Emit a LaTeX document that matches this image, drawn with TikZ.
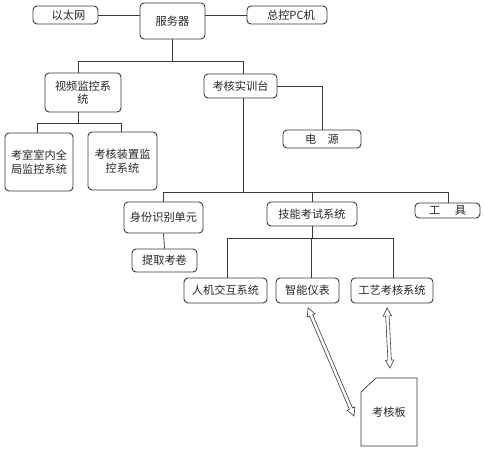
\documentclass[tikz,border=0pt]{standalone}
\usepackage{fontspec}
\setmainfont{Noto Sans CJK SC}
\definecolor{ln}{HTML}{3A3A3A}
\newcommand\hollowarrow[3]{%
  \begin{scope}[shift={#1},rotate=#3]
    \draw[draw=ln,line width=0.6pt,fill=white,line join=miter]
      (0,0) -- (8,4.2) -- (8,1.7) -- ({#2-8},1.7) -- ({#2-8},4.2) -- (#2,0)
      -- ({#2-8},-4.2) -- ({#2-8},-1.7) -- (8,-1.7) -- (8,-4.2) -- cycle;
  \end{scope}}
\begin{document}
\begin{tikzpicture}[x=1pt,y=-1pt,
  box/.style={draw=ln,line width=0.9pt,rounded corners=4pt,inner sep=0pt,align=center,
    font=\fontsize{11.2}{13.5}\selectfont,text=black!85},
  conn/.style={draw=ln,line width=0.8pt}]
\useasboundingbox (0,0) rectangle (484,450);
% nodes
\node[box,minimum width=65pt,minimum height=18pt] (eth) at (65.5,15) {\hspace{6pt}以太网};
\node[box,minimum width=65pt,minimum height=36pt] (srv) at (172.5,21) {服务器};
\node[box,minimum width=80pt,minimum height=18pt] (pc) at (287,15) {\hspace{8pt}总控PC机};
\node[box,minimum width=76pt,minimum height=39pt] (video) at (83,92.5) {视频监控系\\统};
\node[box,minimum width=73pt,minimum height=24pt] (train) at (240.5,86) {考核实训台};
\node[box,minimum width=68pt,minimum height=58pt] (vid1) at (39,162) {考室室内全\\局监控系统};
\node[box,minimum width=69pt,minimum height=58pt] (vid2) at (122.5,161) {考核装置监\\控系统};
\node[box,minimum width=78pt,minimum height=18pt] (power) at (322,139) {电\hspace{1em}源};
\node[box,minimum width=79pt,minimum height=31pt] (id) at (163.5,217.5) {身份识别单元};
\node[box,minimum width=90pt,minimum height=24pt] (skill) at (312,214) {技能考试系统};
\node[box,minimum width=65pt,minimum height=15pt] (tool) at (447.5,210.5) {工\hspace{1.3em}具};
\node[box,minimum width=65pt,minimum height=23pt] (paper) at (164.5,260.5) {提取考卷};
\node[box,minimum width=83pt,minimum height=25pt] (hmi) at (225.5,290.5) {人机交互系统};
\node[box,minimum width=63pt,minimum height=25pt] (meter) at (307.5,290.5) {智能仪表};
\node[box,minimum width=82pt,minimum height=25pt] (craft) at (392,290.5) {工艺考核系统};
% board with cut corner
\draw[draw=ln,line width=0.7pt] (361,392) -- (376,378) -- (417,378) -- (417,446) -- (361,446) -- cycle;
\node[font=\fontsize{11.2}{13.5}\selectfont,text=black!85,inner sep=0pt] (board) at (389,412) {考核板};
% junction coordinates
\coordinate (h1l) at (78,61);  \coordinate (h1r) at (243,61);
\coordinate (h2l) at (37,123); \coordinate (h2m) at (78,123); \coordinate (h2r) at (121,123);
\coordinate (h3l) at (163,192); \coordinate (h3m) at (243,192); \coordinate (h3r) at (448,192);
\coordinate (h4l) at (227,238); \coordinate (h4m) at (311,238); \coordinate (h4r) at (393,238);
% connectors
\draw[conn] (eth.east) -- (eth.east -| srv.west);
\draw[conn] (pc.west) -- (pc.west -| srv.east);
\draw[conn] (srv.south) -- (srv.south |- h1l);
\draw[conn] (h1l |- video.north) -- (h1l) -- (h1r) -- (h1r |- train.north);
\draw[conn] (h2m |- video.south) -- (h2m);
\draw[conn] (h2l |- vid1.north) -- (h2l) -- (h2r) -- (h2r |- vid2.north);
\draw[conn] (train.east) -| (power.north);
\draw[conn] (h3m |- train.south) -- (h3m);
\draw[conn] (h3l |- id.north) -- (h3l) -- (h3r) -- (h3r |- tool.north);
\draw[conn] (skill.north) -- (skill.north |- h3m);
\draw[conn] (id.south) -- (paper.north);
\draw[conn] (skill.south) -- (skill.south |- h4m);
\draw[conn] (h4l |- hmi.north) -- (h4l) -- (h4r) -- (h4r |- craft.north);
\draw[conn] (h4m) -- (h4m |- meter.north);
% hollow double arrows
\coordinate (a1) at (308,308); \coordinate (b1) at (387,308);
\hollowarrow{(a1)}{117.4}{-66.9}
\hollowarrow{(b1)}{60.1}{-87.1}
\end{tikzpicture}
\end{document}
